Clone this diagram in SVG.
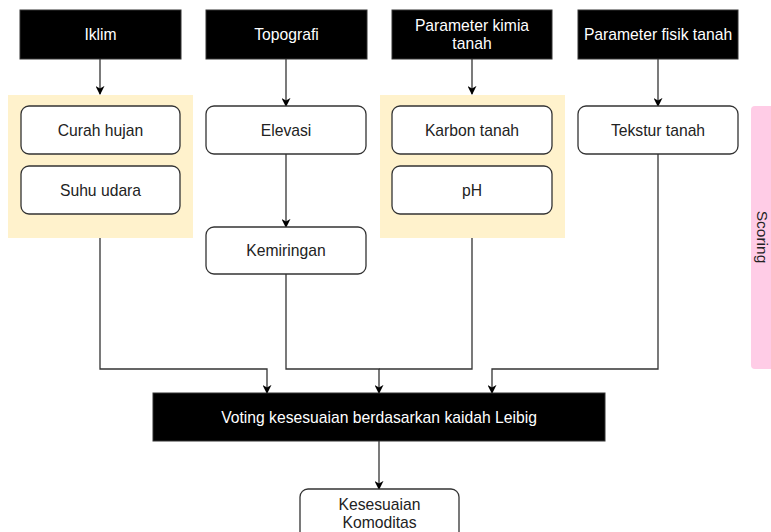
<svg xmlns="http://www.w3.org/2000/svg" width="771" height="532" viewBox="0 0 771 532">
<defs>
<marker id="ah" viewBox="0 0 10 10" refX="9" refY="5" markerWidth="9" markerHeight="9" markerUnits="userSpaceOnUse" orient="auto">
<path d="M0,0 L10,5 L0,10 L3,5 z" fill="#000"/>
</marker>
<style>
text{font-family:"Liberation Sans",Arial,sans-serif;font-size:15.7px;text-anchor:middle;dominant-baseline:central}
.hdr rect{fill:#000;stroke:#333;stroke-width:1}
.hdr text{fill:#fff}
.nd rect{fill:#fff;stroke:#333;stroke-width:1.3}
.nd text{fill:#222}
.grp{fill:#fff2cc;stroke:none}
.cn path{fill:none;stroke:#333;stroke-width:1.3}
.arr{marker-end:url(#ah)}
</style>
</defs>
<rect width="771" height="532" fill="#fff"/>
<g id="group-iklim"><rect class="grp" x="8" y="95" width="185" height="143"/></g>
<g id="group-kimia"><rect class="grp" x="380" y="95" width="185" height="143"/></g>
<g id="scoring"><rect x="751" y="106" width="30" height="263" rx="4" fill="#ffcce6"/><text x="762" y="237" transform="rotate(90 762 237)" fill="#222" style="font-size:15.5px">Scoring</text></g>
<g class="cn" id="connectors">
<path class="arr" d="M100,59 V94"/>
<path class="arr" d="M286,59 V106"/>
<path class="arr" d="M286,154 V227"/>
<path class="arr" d="M472,59 V94"/>
<path class="arr" d="M658,59 V106"/>
<path class="arr" d="M100,238 V369 H267 V393"/>
<path class="arr" d="M286,274 V369 H379 V393"/>
<path d="M472,238 V369 H379"/>
<path class="arr" d="M658,154 V369 H492 V393"/>
<path class="arr" d="M379,441 V489"/>
</g>
<g class="hdr" id="iklim"><rect x="20" y="10" width="161" height="49"/><text x="100.5" y="34.5">Iklim</text></g>
<g class="hdr" id="topografi"><rect x="206" y="10" width="161" height="49"/><text x="286.5" y="34.5">Topografi</text></g>
<g class="hdr" id="kimia"><rect x="392" y="10" width="160" height="49"/><text x="472" y="25.5">Parameter kimia</text><text x="472" y="43.5">tanah</text></g>
<g class="hdr" id="fisik"><rect x="578" y="10" width="160" height="49"/><text x="658" y="34.5">Parameter fisik tanah</text></g>
<g class="nd" id="curah"><rect x="21" y="106" width="159" height="48" rx="8"/><text x="100.5" y="130">Curah hujan</text></g>
<g class="nd" id="suhu"><rect x="21" y="166" width="159" height="48" rx="8"/><text x="100.5" y="190">Suhu udara</text></g>
<g class="nd" id="elevasi"><rect x="206" y="106" width="160" height="48" rx="8"/><text x="286" y="130">Elevasi</text></g>
<g class="nd" id="kemiringan"><rect x="206" y="227" width="160" height="47" rx="8"/><text x="286" y="250.5">Kemiringan</text></g>
<g class="nd" id="karbon"><rect x="392" y="106" width="160" height="48" rx="8"/><text x="472" y="130">Karbon tanah</text></g>
<g class="nd" id="ph"><rect x="392" y="166" width="160" height="48" rx="8"/><text x="472" y="190">pH</text></g>
<g class="nd" id="tekstur"><rect x="578" y="106" width="160" height="48" rx="8"/><text x="658" y="130">Tekstur tanah</text></g>
<g class="hdr" id="voting"><rect x="153" y="393" width="452" height="48"/><text x="379" y="417">Voting kesesuaian berdasarkan kaidah Leibig</text></g>
<g class="nd" id="kesesuaian"><rect x="300" y="489" width="159" height="55" rx="8"/><text x="379.5" y="504">Kesesuaian</text><text x="379.5" y="522">Komoditas</text></g>
</svg>
